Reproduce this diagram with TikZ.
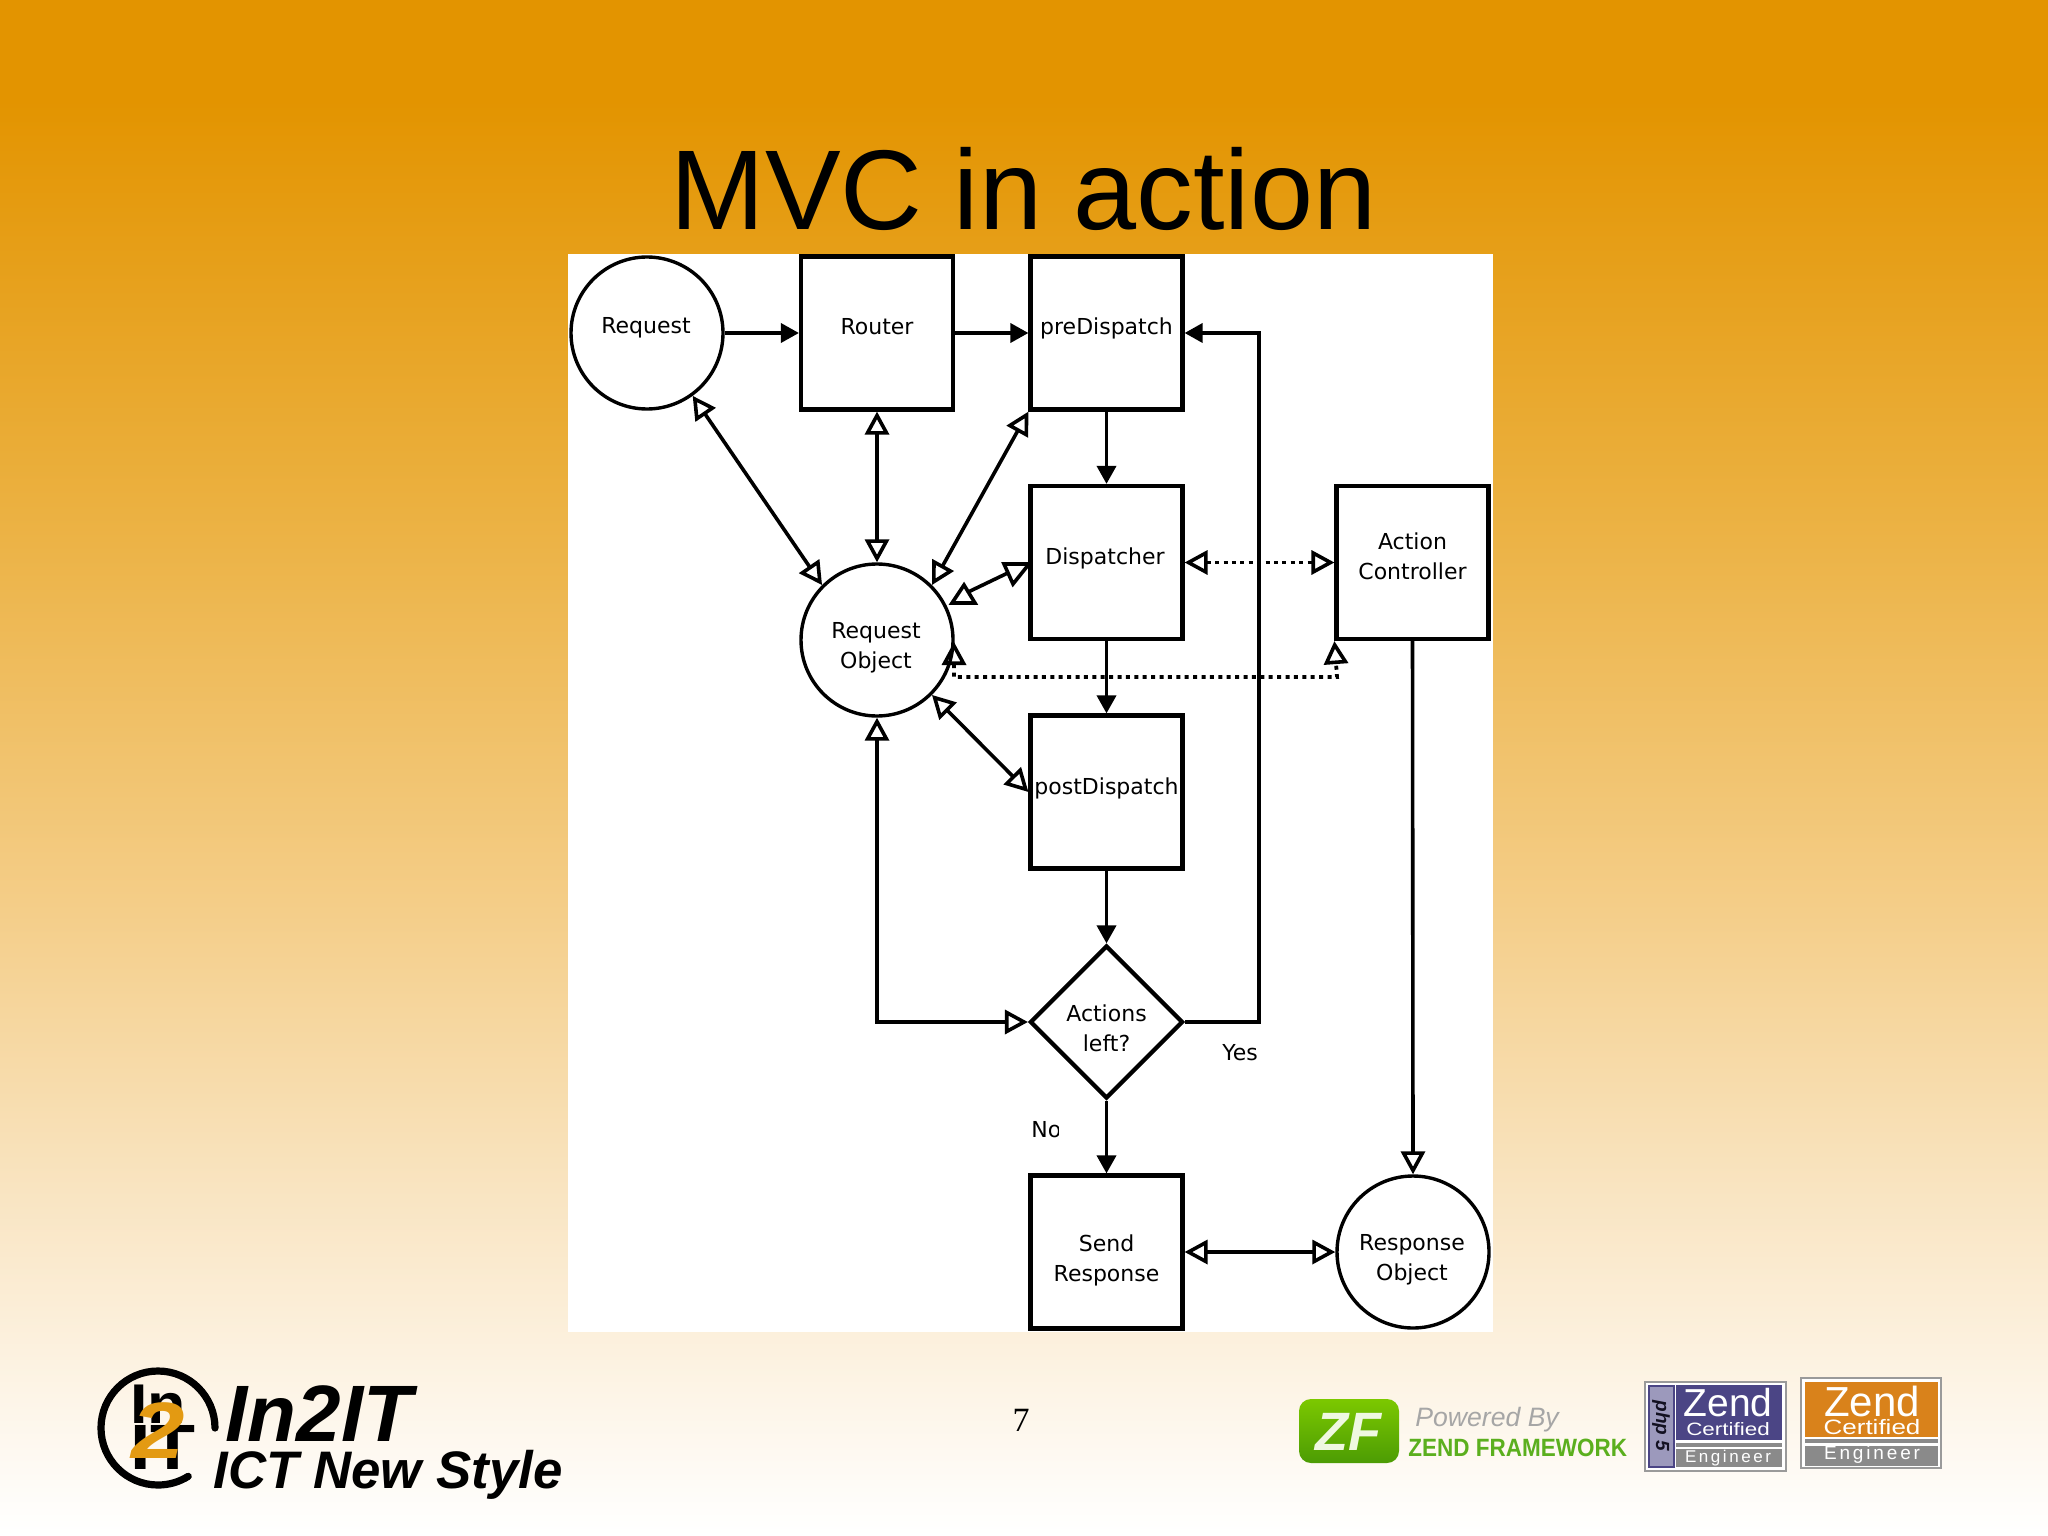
\documentclass[tikz,border=0pt]{standalone}
\usepackage{fontspec}
\setmainfont{Liberation Sans}
\newfontfamily\diafont{DejaVu Sans}
\newfontfamily\serfont{Liberation Serif}
\newfontfamily\spaced[LetterSpace=15]{Liberation Sans}
\usetikzlibrary{arrows.meta,shapes.geometric,calc}
\definecolor{bga}{HTML}{E39400}
\definecolor{bgb}{HTML}{EBB03F}
\definecolor{bgc}{HTML}{F4CD87}
\definecolor{bgd}{HTML}{F9E5C3}
\definecolor{bge}{HTML}{FDF5E8}
\definecolor{logoorange}{HTML}{E39A12}
\definecolor{zfgreen}{HTML}{5BAF1E}
\definecolor{zftop}{HTML}{7CC800}
\definecolor{zfbot}{HTML}{4C9C04}
\definecolor{zendblue}{HTML}{4B4585}
\definecolor{zendorange}{HTML}{D9821B}
\definecolor{zendgray}{HTML}{8A8A8A}
\definecolor{badgeedge}{HTML}{9A9A9A}
\tikzset{
  dtext/.style={font=\diafont\fontsize{11}{12}\selectfont,align=center,inner sep=0pt},
  boxnode/.style={draw=black,line width=2.1pt,fill=white,minimum width=76pt,minimum height=76.5pt,inner sep=0pt},
  roundnode/.style={draw=black,line width=1.7pt,circle,fill=white,minimum size=76pt,inner sep=0pt},
  blacktip/.style={-{Triangle[length=9pt,width=9.5pt]}},
  openboth/.style={{Triangle[open,length=11.5pt,width=12pt,line width=1.8pt]}-{Triangle[open,length=11.5pt,width=12pt,line width=1.8pt]}},
  openend/.style={-{Triangle[open,length=11.5pt,width=12pt,line width=1.8pt]}},
  conn/.style={line width=1.8pt,draw=black},
  dotline/.style={line width=1.9pt,draw=black,dash pattern=on 2pt off 2.2pt},
  ohead/.style={draw=black,line width=1.8pt,fill=white,line join=miter},
  badgepanel/.style={inner sep=0pt,text=white},
}
\begin{document}
\begin{tikzpicture}[x=0.5pt,y=-0.5pt]
\useasboundingbox (0,0) rectangle (2048,1535);
% background
\fill[bga] (0,0) rectangle (2048,100);
\shade[top color=bga,bottom color=bgb] (0,100) rectangle (2048,500);
\shade[top color=bgb,bottom color=bgc] (0,500) rectangle (2048,900);
\shade[top color=bgc,bottom color=bgd] (0,900) rectangle (2048,1200);
\shade[top color=bgd,bottom color=bge] (0,1200) rectangle (2048,1400);
\shade[top color=bge,bottom color=white] (0,1400) rectangle (2048,1535);
% title
\node[anchor=base,inner sep=0pt,font=\fontsize{56.7}{60}\selectfont] (title) at (1023.5,230) {MVC in action};
% canvas
\fill[white] (568,254) rectangle (1493,1332);
% nodes
\node[roundnode] (request) at (647,333) {};
\node[dtext] (requestt) at (646,328) {Request};
\node[boxnode] (router) at (877,333) {};
\node[dtext] (routert) at (877,327) {Router};
\node[boxnode] (pre) at (1106.5,333) {};
\node[dtext] (pret) at (1106.5,328) {preDispatch};
\node[boxnode] (disp) at (1106.5,562.5) {};
\node[dtext] (dispt) at (1105,558) {Dispatcher};
\node[boxnode] (post) at (1106.5,792) {};
\node[dtext] (postt) at (1106.5,788) {postDispatch};
\node[roundnode] (reqobj) at (877,640) {};
\node[dtext] (reqobjt) at (876,648) {Request\\[3pt]Object};
\node[boxnode] (action) at (1412.5,562.5) {};
\node[dtext] (actiont) at (1412.5,556) {Action\\[3pt]Controller};
\node[diamond,draw=black,line width=2.1pt,fill=white,minimum width=76.5pt,minimum height=76.5pt,inner sep=0pt,shape aspect=1] (left) at (1106.5,1022) {};
\node[dtext] (leftt) at (1106.5,1028) {Actions\\[3pt]left?};
\node[boxnode] (send) at (1106.5,1252) {};
\node[dtext] (sendt) at (1106.5,1260) {Send\\[3pt]Response};
\node[roundnode] (resp) at (1413,1252) {};
\node[dtext] (respt) at (1412,1260) {Response\\[3pt]Object};
\begin{scope}
\clip (1215,1030) rectangle (1256,1075);
\node[dtext,anchor=base west] (yes) at (1222,1060) {Yes};
\end{scope}
\begin{scope}
\clip (1025,1110) rectangle (1058,1150);
\node[dtext,anchor=base west] (no) at (1031,1137) {No};
\end{scope}
% connectors
\draw[conn,blacktip] (request.east) -- (router.west);
\draw[conn,blacktip] (router.east) -- (pre.west);
\draw[conn,blacktip] (pre.south) -- (disp.north);
\draw[conn,blacktip] (disp.south) -- (post.north);
\draw[conn,blacktip] (post.south) -- (left.north);
\draw[conn,blacktip] (left.south) -- (send.north);
\draw[conn,blacktip] (left.east) -- (1259,1022) -- (1259,333) -- (pre.east);
\draw[conn,openend] (action.south) -- (resp.north);
\draw[conn,openboth] (router.south) -- (reqobj.north);
\draw[conn,openboth] (send.east) -- (resp.west);
\draw[conn,openboth] (request.-54) -- (reqobj.135);
\draw[conn,openboth] (pre.south west) -- (reqobj.45);
\draw[conn,openboth] (post.west) -- (reqobj.-45);
\draw[conn,openboth] (left.west) -- (877,1022) -- (reqobj.south);
\draw[dotline,openboth] (disp.east) -- (action.west);
\draw[dotline,openboth] (954,642) -- (954,677) -- (1337,677) -- (action.south west);
% distorted heads of the request object / dispatcher link
\coordinate (rd1) at (964,594);
\coordinate (rd2) at (1014,570);
\draw[conn] (rd1) -- (rd2);
\draw[ohead] (952,603) -- (975,603) -- (964,585) -- cycle;
\draw[ohead] (1004,564) -- (1029,564) -- (1013,584) -- cycle;
% footer: page number
\node[inner sep=0pt,font=\serfont\fontsize{17}{20}\selectfont] (pageno) at (1021,1420) {7};
% In2IT logo
\draw[line width=3.6pt,line cap=round,draw=black] (215,1428) arc[start angle=0,end angle=302,radius=28.5pt];
\node[anchor=base west,inner sep=0pt,xscale=1.12,font=\bfseries\fontsize{28}{30}\selectfont] (logoin) at (130,1423) {In};
\node[anchor=base west,inner sep=0pt,xscale=1.15,font=\bfseries\fontsize{32}{34}\selectfont] (logoit) at (130,1469) {IT};
\node[anchor=center,inner sep=0pt,xscale=1.2,text=logoorange,font=\bfseries\itshape\fontsize{40}{42}\selectfont] (logotwo) at (158,1431) {2};
\node[anchor=base west,inner sep=0pt,font=\bfseries\itshape\fontsize{40}{42}\selectfont] (logoa) at (225,1441) {In2IT};
\node[anchor=base west,inner sep=0pt,font=\bfseries\itshape\fontsize{26.4}{28}\selectfont] (logob) at (213,1488) {ICT New Style};
% Zend Framework
\shade[rounded corners=6pt,top color=zftop,bottom color=zfbot] (1299,1399) rectangle (1399,1463);
\node[inner sep=0pt,text=white!88!zftop,font=\bfseries\itshape\fontsize{27}{28}\selectfont] (zfmark) at (1348,1432) {ZF};
\node[anchor=base west,inner sep=0pt,text=black!35,font=\itshape\fontsize{13.3}{14}\selectfont] (powered) at (1415,1426) {Powered By};
\node[anchor=base west,inner sep=0pt,xscale=.9,text=zfgreen,font=\bfseries\fontsize{12.5}{14}\selectfont] (zendfw) at (1408,1456) {ZEND FRAMEWORK};
% PHP5 badge
\fill[white,draw=badgeedge,line width=1pt] (1645,1382) rectangle (1786,1471);
\fill[zendblue!55!white,draw=zendblue,line width=.8pt] (1649,1386) rectangle (1674,1467);
\node[rotate=-90,inner sep=0pt,text=black!75!zendblue,font=\bfseries\itshape\fontsize{9.5}{10}\selectfont] (php) at (1661,1426) {php 5};
\fill[zendblue] (1676,1385) rectangle (1782,1440);
\node[badgepanel,font=\fontsize{19.5}{20}\selectfont] (z1) at (1728,1403) {Zend};
\node[badgepanel,yscale=.8,font=\fontsize{11.2}{12}\selectfont] (c1) at (1728,1429) {Certified};
\fill[zendgray] (1676,1443) rectangle (1782,1447);
\fill[zendgray] (1676,1449) rectangle (1782,1467);
\node[badgepanel,font=\spaced\fontsize{8.5}{9}\selectfont] (e1) at (1728,1458) {Engineer};
% Zend orange badge
\fill[white,draw=badgeedge,line width=1pt] (1801,1378) rectangle (1941,1468);
\fill[zendorange] (1805,1382) rectangle (1938,1437);
\node[badgepanel,font=\fontsize{21}{22}\selectfont] (z2) at (1872,1401) {Zend};
\node[badgepanel,yscale=.8,font=\fontsize{13}{14}\selectfont] (c2) at (1872,1427) {Certified};
\fill[zendgray] (1805,1439) rectangle (1938,1443);
\fill[zendgray] (1805,1446) rectangle (1938,1466);
\node[badgepanel,font=\spaced\fontsize{9.5}{10}\selectfont] (e2) at (1872,1455) {Engineer};
\end{tikzpicture}
\end{document}
